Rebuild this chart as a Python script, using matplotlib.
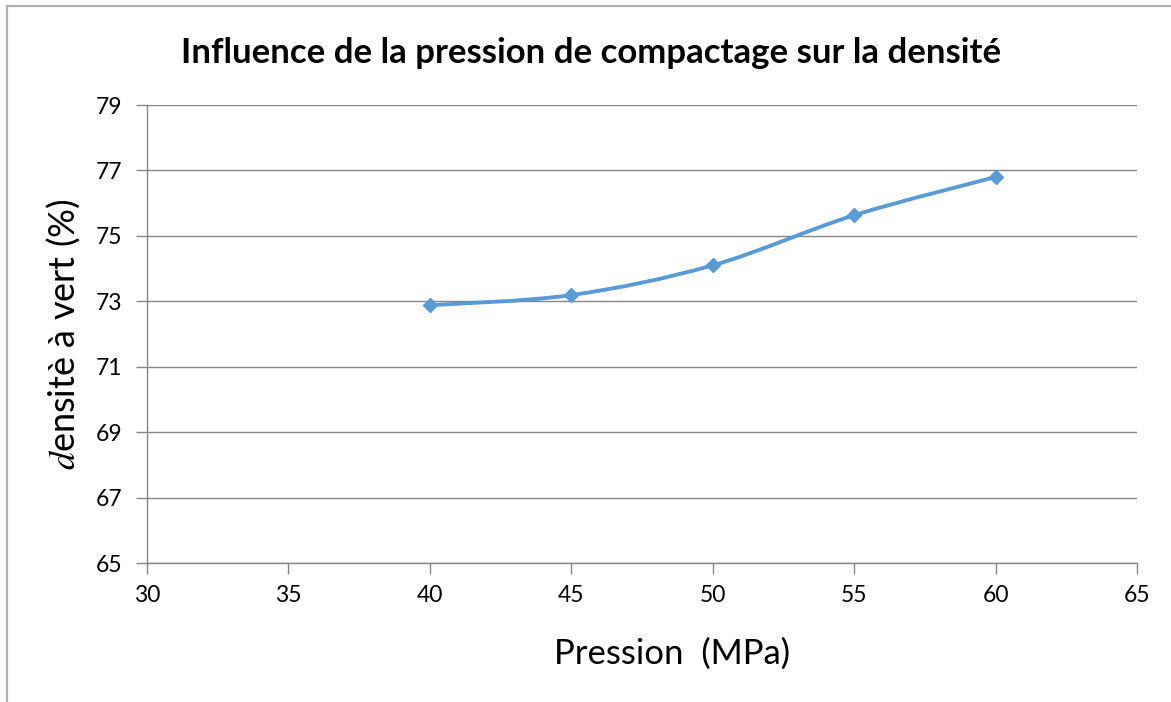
import matplotlib.pyplot as plt
from matplotlib.path import Path
from matplotlib.patches import PathPatch, Rectangle
import numpy as np

# pression de compactage (MPa) et densité à vert (%)
pression = [40, 45, 50, 55, 60]
densite = [72.88, 73.19, 74.10, 75.63, 76.80]

x_ticks = [30, 35, 40, 45, 50, 55, 60, 65]
y_ticks = [65, 67, 69, 71, 73, 75, 77, 79]

bleu = '#5B9BD5'
gris = '#868686'

plt.rcParams['font.family'] = ['Lato', 'DejaVu Sans']
plt.rcParams['mathtext.fontset'] = 'stix'

fig = plt.figure(figsize=(11.71, 7.02), dpi=100)
ax = fig.add_axes([0.1255, 0.198, 0.8455, 0.6524])

# cadre de la zone de graphique
fig.patches.append(Rectangle((0.006, -0.05), 1.1, 1.042, transform=fig.transFigure,
                             fill=False, edgecolor='#b0b0b0', linewidth=1.6))

# courbe lissée (Bézier type Excel) passant par les points
pts = np.column_stack([pression, densite]).astype(float)
ext = np.vstack([pts[0], pts, pts[-1]])
verts = [tuple(pts[0])]
codes = [Path.MOVETO]
for i in range(1, len(ext) - 2):
    p0, p1, p2, p3 = ext[i - 1], ext[i], ext[i + 1], ext[i + 2]
    c1 = p1 + (p2 - p0) / 6
    c2 = p2 - (p3 - p1) / 6
    verts += [tuple(c1), tuple(c2), tuple(p2)]
    codes += [Path.CURVE4] * 3
ax.add_patch(PathPatch(Path(verts, codes), facecolor='none', edgecolor=bleu,
                       linewidth=2.8, capstyle='round', zorder=3))
ax.plot(pression, densite, linestyle='none', marker='D', markersize=7.5,
        color=bleu, zorder=4)

ax.set_xlim(30, 65)
ax.set_ylim(65, 79)
ax.set_xticks(x_ticks)
ax.set_yticks(y_ticks)
ax.tick_params(labelsize=16.5, length=8, color=gris, width=1, pad=8)
ax.tick_params(axis='y', pad=10)
ax.yaxis.grid(True, color=gris, linewidth=1)
ax.set_axisbelow(True)
for s in ['top', 'right']:
    ax.spines[s].set_visible(False)
for s in ['left', 'bottom']:
    ax.spines[s].set_color(gris)
    ax.spines[s].set_linewidth(1)

fig.text(0.505, 0.925, 'Influence de la pression de compactage sur la densité',
         fontsize=25, fontweight='bold', ha='center', va='center')
ax.set_xlabel('Pression  (MPa)', fontsize=25)
ax.xaxis.set_label_coords(0.53, -0.163)
ax.set_ylabel('$d$ensitè à vert (%)', fontsize=26)
ax.yaxis.set_label_coords(-0.066, 0.5)

fig.savefig('out.png', dpi=100)
